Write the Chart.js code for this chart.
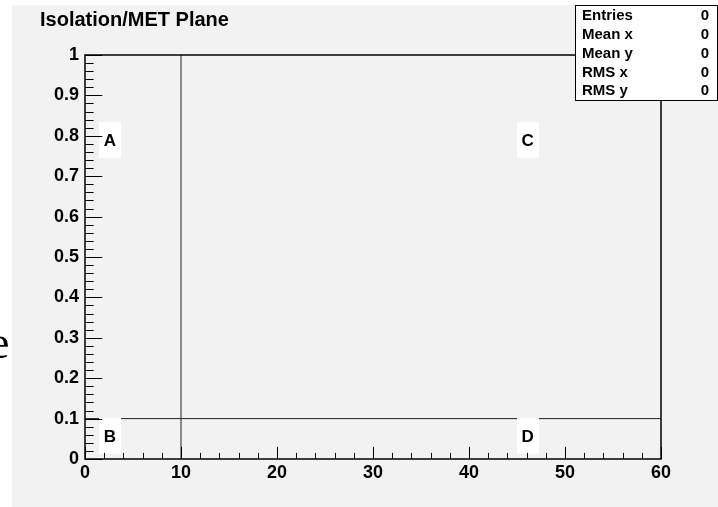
<!DOCTYPE html>
<html><head><meta charset="utf-8">
<script src="https://cdn.jsdelivr.net/npm/chart.js@4/dist/chart.umd.min.js"></script>
<style>html,body{margin:0;padding:0;background:#fff;overflow:hidden}#wrap{width:718px;height:507px;position:relative}</style>
</head><body><div id="wrap"><canvas id="c" width="718" height="507"></canvas></div>
<script>
const titleText = 'Isolation/MET Plane';
const xMin = 0, xMax = 60, xMajor = 10, xMinor = 2;
const yMin = 0, yMax = 1, yMajor = 0.1, yMinor = 0.02;
const cutVertX = [10, 10];
const cutVertY = [0, 1];
const cutHorX = [0, 60];
const cutHorY = [0.1, 0.1];
const regionLabels = ['A', 'B', 'C', 'D'];
const regionX = [2.6, 2.6, 46.1, 46.1];
const regionY = [0.79, 0.056, 0.79, 0.056];
const statNames = ['Entries', 'Mean x', 'Mean y', 'RMS x', 'RMS y'];
const statValues = ['0', '0', '0', '0', '0'];

const FONT = '"Liberation Sans", Arial, Helvetica, sans-serif';

const decor = {
  id: 'decor',
  beforeDraw(chart) {
    const ctx = chart.ctx;
    ctx.save();
    ctx.fillStyle = '#ffffff';
    ctx.fillRect(0, 0, chart.width, chart.height);
    ctx.fillStyle = '#f2f2f2';
    ctx.fillRect(12, 5, chart.width - 12, chart.height - 5);
    ctx.fillStyle = '#000';
    ctx.font = 'bold 20px ' + FONT;
    ctx.textBaseline = 'alphabetic';
    ctx.textAlign = 'left';
    ctx.fillText(titleText, 40, 26);
    ctx.font = '46px "Liberation Serif", "Times New Roman", serif';
    ctx.fillText('e', -11, 358);
    ctx.restore();
  },
  afterDatasetsDraw(chart) {
    const ctx = chart.ctx;
    const xs = chart.scales.x, ys = chart.scales.y;
    ctx.save();
    ctx.font = 'bold 17px ' + FONT;
    ctx.textAlign = 'center';
    ctx.textBaseline = 'middle';
    for (let i = 0; i < regionLabels.length; i++) {
      const px = xs.getPixelForValue(regionX[i]);
      const py = ys.getPixelForValue(regionY[i]);
      ctx.fillStyle = '#ffffff';
      ctx.fillRect(Math.round(px - 11), Math.round(py - 18), 22, 36);
      ctx.fillStyle = '#000';
      ctx.fillText(regionLabels[i], px, py + 1);
    }
    ctx.restore();
  },
  afterDraw(chart) {
    const ctx = chart.ctx;
    const a = chart.chartArea;
    const xs = chart.scales.x, ys = chart.scales.y;
    ctx.save();
    ctx.strokeStyle = '#000';
    ctx.lineWidth = 1;
    const h = a.bottom - a.top, w = a.right - a.left;
    ctx.beginPath();
    for (let v = xMin; v <= xMax + 1e-9; v += xMinor) {
      const isMaj = Math.abs(v / xMajor - Math.round(v / xMajor)) < 1e-6;
      const len = isMaj ? 0.03 * h : 0.015 * h;
      const px = Math.round(xs.getPixelForValue(v)) + 0.5;
      ctx.moveTo(px, a.bottom);
      ctx.lineTo(px, a.bottom - len);
    }
    for (let v = yMin; v <= yMax + 1e-9; v += yMinor) {
      const isMaj = Math.abs(v / yMajor - Math.round(v / yMajor)) < 1e-6;
      const len = isMaj ? 0.03 * w : 0.015 * w;
      const py = Math.round(ys.getPixelForValue(v)) + 0.5;
      ctx.moveTo(a.left, py);
      ctx.lineTo(a.left + len, py);
    }
    ctx.stroke();
    ctx.lineWidth = 1.5;
    ctx.strokeRect(a.left, a.top, w, h);
    ctx.fillStyle = '#fff';
    ctx.fillRect(575, 5, 142, 95);
    ctx.lineWidth = 1;
    ctx.strokeRect(575.5, 5.5, 142, 95);
    ctx.fillStyle = '#000';
    ctx.font = 'bold 15px ' + FONT;
    ctx.textBaseline = 'middle';
    for (let i = 0; i < statNames.length; i++) {
      const y = 16 + i * 18.8;
      ctx.textAlign = 'left';
      ctx.fillText(statNames[i], 582, y);
      ctx.textAlign = 'right';
      ctx.fillText(statValues[i], 709, y);
    }
    ctx.restore();
  }
};

new Chart(document.getElementById('c'), {
  type: 'scatter',
  data: {
    datasets: [
      { data: cutVertX.map((x, i) => ({ x, y: cutVertY[i] })), showLine: true, borderColor: '#222', borderWidth: 1, pointRadius: 0 },
      { data: cutHorX.map((x, i) => ({ x, y: cutHorY[i] })), showLine: true, borderColor: '#222', borderWidth: 1, pointRadius: 0 }
    ]
  },
  options: {
    responsive: false,
    animation: false,
    devicePixelRatio: 1,
    layout: { padding: { left: 0, top: 55, right: 57, bottom: 0 } },
    plugins: { legend: { display: false }, tooltip: { enabled: false }, title: { display: false } },
    scales: {
      x: {
        type: 'linear', min: xMin, max: xMax,
        grid: { display: false, drawTicks: false },
        border: { display: false },
        ticks: { stepSize: xMajor, color: '#000', font: { family: FONT, size: 18, weight: 'bold' }, padding: 3, maxRotation: 0 },
        afterFit(s) { s.height = 48; }
      },
      y: {
        type: 'linear', min: yMin, max: yMax,
        grid: { display: false, drawTicks: false },
        border: { display: false },
        ticks: { stepSize: yMajor, color: '#000', font: { family: FONT, size: 18, weight: 'bold' }, padding: 6,
          callback: v => (Math.round(v * 10) / 10).toString() },
        afterFit(s) { s.width = 85; }
      }
    }
  },
  plugins: [decor]
});
</script></body></html>
